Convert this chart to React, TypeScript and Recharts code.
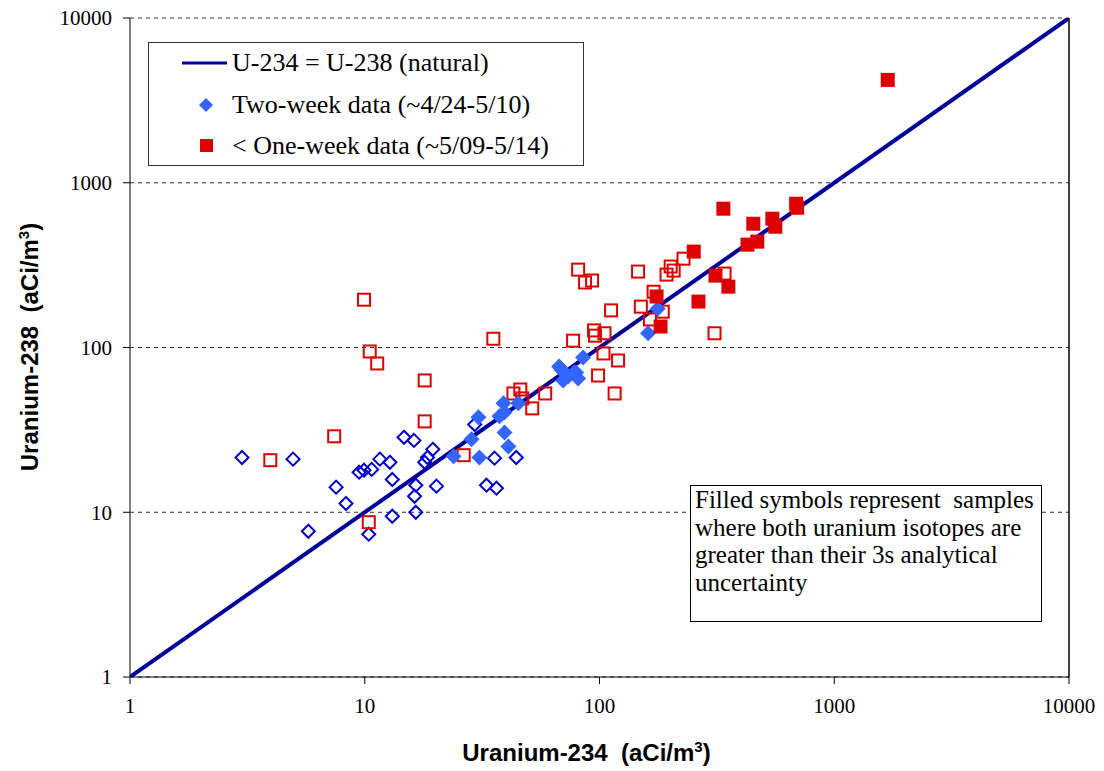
import React from "react";
import {
  ScatterChart,
  Scatter,
  XAxis,
  YAxis,
  CartesianGrid,
  ReferenceLine,
} from "recharts";

// decade ticks for both log axes
const decadeTicks = [1, 10, 100, 1000, 10000];

// 1:1 natural ratio line
const naturalLine = [
  { x: 1, y: 1 },
  { x: 10000, y: 10000 },
];

// two-week data, above 3s (filled)
const twoWeekFilled = [
  { x: 23.9, y: 21.9 },
  { x: 28.5, y: 27.7 },
  { x: 30.8, y: 21.5 },
  { x: 30.5, y: 37.7 },
  { x: 37.5, y: 38.2 },
  { x: 39.4, y: 40.4 },
  { x: 39.4, y: 30.5 },
  { x: 40.9, y: 25.1 },
  { x: 39.0, y: 45.8 },
  { x: 45.1, y: 45.8 },
  { x: 67.3, y: 76.7 },
  { x: 68.7, y: 73.6 },
  { x: 70.7, y: 70.5 },
  { x: 70.0, y: 63.1 },
  { x: 73.5, y: 66.7 },
  { x: 78.0, y: 70.5 },
  { x: 81.1, y: 64.9 },
  { x: 79.5, y: 70.5 },
  { x: 85.1, y: 87 },
  { x: 177, y: 172 },
  { x: 161, y: 122 },
];

// two-week data, below 3s (open)
const twoWeekOpen = [
  { x: 3.0, y: 21.5 },
  { x: 4.95, y: 21.0 },
  { x: 5.75, y: 7.67 },
  { x: 7.55, y: 14.2 },
  { x: 8.32, y: 11.3 },
  { x: 9.46, y: 17.5 },
  { x: 9.93, y: 18.0 },
  { x: 10.7, y: 18.2 },
  { x: 11.6, y: 21.0 },
  { x: 12.8, y: 20.1 },
  { x: 13.1, y: 15.8 },
  { x: 14.7, y: 28.5 },
  { x: 16.2, y: 27.3 },
  { x: 13.1, y: 9.46 },
  { x: 10.4, y: 7.36 },
  { x: 16.5, y: 14.6 },
  { x: 16.3, y: 12.5 },
  { x: 16.5, y: 10.0 },
  { x: 20.2, y: 14.4 },
  { x: 18.0, y: 20.1 },
  { x: 18.5, y: 21.5 },
  { x: 19.5, y: 24.1 },
  { x: 33.0, y: 14.6 },
  { x: 36.4, y: 14.0 },
  { x: 35.7, y: 21.3 },
  { x: 44.2, y: 21.5 },
  { x: 29.4, y: 34.1 },
];

// one-week data, above 3s (filled)
const oneWeekFilled = [
  { x: 1690, y: 4210 },
  { x: 337, y: 696 },
  { x: 452, y: 564 },
  { x: 545, y: 605 },
  { x: 561, y: 541 },
  { x: 427, y: 421 },
  { x: 470, y: 439 },
  { x: 688, y: 746 },
  { x: 695, y: 705 },
  { x: 252, y: 382 },
  { x: 312, y: 273 },
  { x: 354, y: 234 },
  { x: 264, y: 190 },
  { x: 175, y: 204 },
  { x: 182, y: 134 },
];

// one-week data, below 3s (open)
const oneWeekOpen = [
  { x: 3.96, y: 20.7 },
  { x: 7.41, y: 28.9 },
  { x: 10.4, y: 8.7 },
  { x: 18.0, y: 35.6 },
  { x: 26.4, y: 22.2 },
  { x: 51.7, y: 42.7 },
  { x: 9.93, y: 195 },
  { x: 10.5, y: 94.6 },
  { x: 11.3, y: 80 },
  { x: 18.0, y: 63.1 },
  { x: 35.3, y: 113 },
  { x: 43.0, y: 52.6 },
  { x: 46.0, y: 55.6 },
  { x: 46.9, y: 49.1 },
  { x: 58.7, y: 52.6 },
  { x: 81.1, y: 297 },
  { x: 86.8, y: 248 },
  { x: 93.0, y: 255 },
  { x: 112, y: 168 },
  { x: 146, y: 289 },
  { x: 150, y: 177 },
  { x: 170, y: 218 },
  { x: 164, y: 148 },
  { x: 186, y: 165 },
  { x: 193, y: 277 },
  { x: 201, y: 310 },
  { x: 207, y: 293 },
  { x: 228, y: 346 },
  { x: 341, y: 281 },
  { x: 309, y: 122 },
  { x: 77.2, y: 110 },
  { x: 94.8, y: 127 },
  { x: 95.7, y: 118 },
  { x: 105, y: 122 },
  { x: 104, y: 92 },
  { x: 120, y: 83.4 },
  { x: 98.6, y: 67.6 },
  { x: 116, y: 52.6 },
];

const BLUE = "#3366ff";
const NAVY = "#0000cc";
const RED = "#dd0000";
const LINE = "#000099";

const serif = "'Liberation Serif', 'Times New Roman', serif";
const sans = "'Liberation Sans', Arial, sans-serif";

const diamond = (cx: number, cy: number, r: number) =>
  `M${cx},${cy - r} L${cx + r},${cy} L${cx},${cy + r} L${cx - r},${cy} Z`;

const FilledDiamond = (props: any) => (
  <path d={diamond(props.cx, props.cy, 8)} fill={BLUE} />
);
const OpenDiamond = (props: any) => (
  <path d={diamond(props.cx, props.cy, 6.5)} fill="none" stroke={NAVY} strokeWidth={2} />
);
const FilledSquare = (props: any) => (
  <rect x={props.cx - 7} y={props.cy - 7} width={14} height={14} fill={RED} />
);
const OpenSquare = (props: any) => (
  <rect x={props.cx - 6} y={props.cy - 6} width={12} height={12} fill="none" stroke={RED} strokeWidth={2} />
);
const NoDot = () => <g />;

export default function App() {
  return (
    <div style={{ position: "absolute", left: 0, top: 0, width: 1104, height: 771, background: "#fff" }}>
      <ScatterChart width={1104} height={771} margin={{ top: 18, right: 35, bottom: 0, left: 0 }}>
        <CartesianGrid vertical={false} stroke="#333" strokeDasharray="4 4" />
        <XAxis
          type="number"
          dataKey="x"
          scale="log"
          domain={[1, 10000]}
          ticks={decadeTicks}
          allowDataOverflow
          height={94}
          stroke="#000"
          tickSize={7}
          tickMargin={14}
          tick={{ fill: "#000", fontSize: 21, fontFamily: serif }}
        />
        <YAxis
          type="number"
          dataKey="y"
          scale="log"
          domain={[1, 10000]}
          ticks={decadeTicks}
          allowDataOverflow
          width={130}
          stroke="#000"
          tickSize={7}
          tickMargin={11}
          tick={{ fill: "#000", fontSize: 21, fontFamily: serif }}
        />
        <ReferenceLine x={10000} stroke="#000" strokeWidth={1.5} />
        <Scatter
          data={naturalLine}
          line={{ stroke: LINE, strokeWidth: 4 }}
          shape={NoDot}
          isAnimationActive={false}
        />
        <Scatter data={twoWeekOpen} shape={OpenDiamond} isAnimationActive={false} />
        <Scatter data={oneWeekOpen} shape={OpenSquare} isAnimationActive={false} />
        <Scatter data={twoWeekFilled} shape={FilledDiamond} isAnimationActive={false} />
        <Scatter data={oneWeekFilled} shape={FilledSquare} isAnimationActive={false} />
      </ScatterChart>

      {/* legend box */}
      <div
        style={{
          position: "absolute",
          left: 148,
          top: 42,
          width: 434,
          height: 122,
          border: "1px solid #333",
          background: "#fff",
          fontFamily: serif,
          fontSize: 26,
          lineHeight: "30px",
          color: "#000",
        }}
      >
        <svg width={80} height={122} style={{ position: "absolute", left: 0, top: 0 }}>
          <line x1={33} x2={78} y1={20} y2={20} stroke={LINE} strokeWidth={3} />
          <path d={diamond(57, 62, 7)} fill={BLUE} />
          <rect x={51} y={96} width={13} height={13} fill={RED} />
        </svg>
        <div style={{ position: "absolute", left: 83, top: 5, whiteSpace: "nowrap" }}>U-234 = U-238 (natural)</div>
        <div style={{ position: "absolute", left: 83, top: 47, whiteSpace: "nowrap" }}>Two-week data (~4/24-5/10)</div>
        <div style={{ position: "absolute", left: 83, top: 88, whiteSpace: "nowrap" }}>&lt; One-week data (~5/09-5/14)</div>
      </div>

      {/* note box */}
      <div
        style={{
          position: "absolute",
          left: 690,
          top: 485,
          width: 352,
          height: 137,
          border: "1px solid #000",
          background: "#fff",
          fontFamily: serif,
          fontSize: 25,
          lineHeight: "27.5px",
          color: "#000",
          padding: "0 4px",
          boxSizing: "border-box",
        }}
      >
        Filled symbols represent&nbsp; samples where both uranium isotopes are greater than their 3s analytical uncertainty
      </div>

      {/* axis titles */}
      <div
        style={{
          position: "absolute",
          left: 0,
          width: 1173,
          top: 739,
          textAlign: "center",
          fontFamily: sans,
          fontWeight: "bold",
          fontSize: 24,
          lineHeight: "28px",
          whiteSpace: "pre",
        }}
      >
        Uranium-234  (aCi/m<sup style={{ fontSize: 15, lineHeight: 0 }}>3</sup>)
      </div>
      <div
        style={{
          position: "absolute",
          left: 30,
          top: 347,
          transform: "translate(-50%, -50%) rotate(-90deg)",
          fontFamily: sans,
          fontWeight: "bold",
          fontSize: 24,
          lineHeight: "28px",
          whiteSpace: "pre",
        }}
      >
        Uranium-238  (aCi/m<sup style={{ fontSize: 15, lineHeight: 0 }}>3</sup>)
      </div>
    </div>
  );
}
